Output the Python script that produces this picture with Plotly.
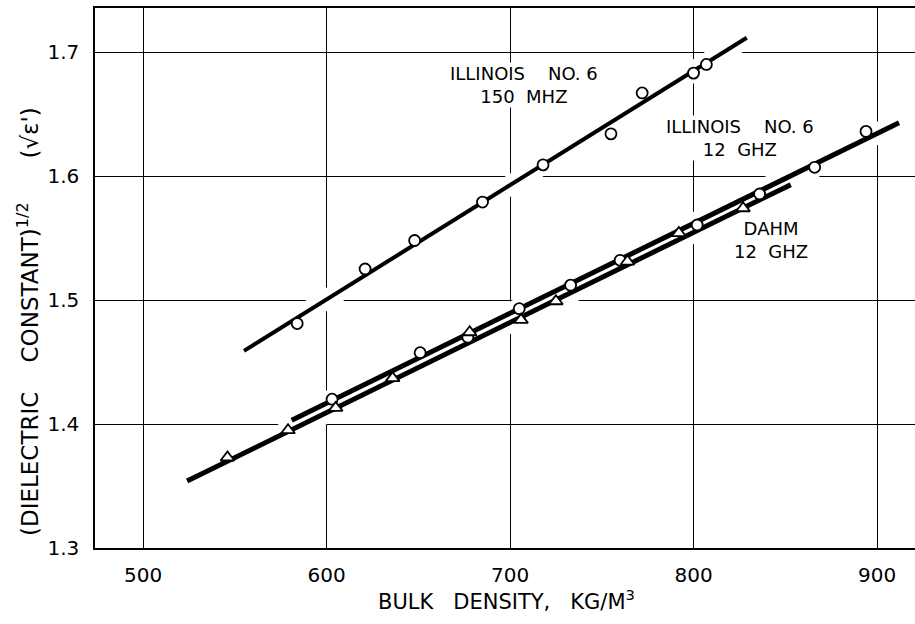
import plotly.graph_objects as go

# ---- data ----
ill150_x = [584, 621, 648, 685, 718, 755, 772, 800, 807]
ill150_y = [1.481, 1.525, 1.548, 1.579, 1.609, 1.634, 1.667, 1.683, 1.690]

ill12_x = [603, 651, 677, 705, 733, 760, 802, 836, 866, 894]
ill12_y = [1.420, 1.4575, 1.470, 1.493, 1.512, 1.532, 1.5605, 1.5855, 1.607, 1.636]

dahm_x = [546, 579, 605, 636, 678, 706, 725, 764, 792, 827]
dahm_y = [1.373, 1.395, 1.413, 1.437, 1.474, 1.484, 1.499, 1.531, 1.554, 1.574]

# fitted lines (end points)
fit150_x = [555, 829]
fit150_y = [1.459, 1.7115]
fit12_x = [581, 912]
fit12_y = [1.403, 1.643]
fitdahm_x = [524, 853]
fitdahm_y = [1.354, 1.593]

x_ticks = [500, 600, 700, 800, 900]
y_ticks = [1.3, 1.4, 1.5, 1.6, 1.7]

FONT = "DejaVu Sans"
HALO = "white"
NB = "\u00a0"

fig = go.Figure()

lines = [(fit150_x, fit150_y, 4), (fit12_x, fit12_y, 5), (fitdahm_x, fitdahm_y, 5)]
pts = [(ill150_x, ill150_y, "circle", 11),
       (ill12_x, ill12_y, "circle", 11),
       (dahm_x, dahm_y, "triangle-up", 12)]

# white halos that break the grid around the drawn lines
for lx, ly, w in lines:
    fig.add_trace(go.Scatter(x=lx, y=ly, mode="lines",
                             line=dict(color=HALO, width=w + 16),
                             hoverinfo="skip", showlegend=False))
for px, py, sym, s in pts:
    fig.add_trace(go.Scatter(x=px, y=py, mode="markers",
                             marker=dict(symbol="circle", size=s + 10, color=HALO,
                                         line=dict(width=0)),
                             hoverinfo="skip", showlegend=False))
# fit lines
for lx, ly, w in lines:
    fig.add_trace(go.Scatter(x=lx, y=ly, mode="lines",
                             line=dict(color="black", width=w),
                             showlegend=False))
# markers
for px, py, sym, s in pts:
    fig.add_trace(go.Scatter(x=px, y=py, mode="markers",
                             marker=dict(symbol=sym, size=s, color="white",
                                         line=dict(color="black", width=1.8)),
                             showlegend=False))

labels = [
    ("ILLINOIS" + NB * 4 + "NO. 6<br>150" + NB * 2 + "MHZ", 707.5, 1.6738),
    ("ILLINOIS" + NB * 4 + "NO. 6<br>12" + NB * 2 + "GHZ", 825.5, 1.631),
    ("DAHM<br>12" + NB * 2 + "GHZ", 842, 1.5484),
]
for t, x, y in labels:
    fig.add_annotation(x=x, y=y, text=t, showarrow=False, xanchor="center",
                       yanchor="middle", align="center", bgcolor="white", borderpad=0,
                       font=dict(family=FONT, size=18, color="black"))

fig.add_annotation(xref="paper", yref="paper", x=(28 - 95) / 820, y=(548 - 322) / 540,
                   text="(DIELECTRIC" + NB * 4 + "CONSTANT)<sup>1/2</sup>" + NB * 6 + "(\u221a\u03b5')",
                   textangle=-90, showarrow=False, xanchor="center", yanchor="middle",
                   font=dict(family=FONT, size=23, color="black"))
fig.add_annotation(xref="paper", yref="paper", x=(506 - 95) / 820, y=-(600 - 548) / 540,
                   text="BULK" + NB * 3 + "DENSITY," + NB * 3 + "KG/M<sup>3</sup>",
                   showarrow=False, xanchor="center", yanchor="middle",
                   font=dict(family=FONT, size=21, color="black"))

fig.update_xaxes(range=[473.8, 920.7], tickvals=x_ticks, ticktext=[str(v) for v in x_ticks],
                 showgrid=True, gridcolor="black", gridwidth=1.3, zeroline=False,
                 showline=True, linecolor="black", linewidth=1.5, mirror=True,
                 ticks="", ticklabelstandoff=8,
                 tickfont=dict(family=FONT, size=20, color="black"))
fig.update_yaxes(range=[1.3, 1.7355], tickvals=y_ticks, ticktext=[f"{v:.1f}" for v in y_ticks],
                 showgrid=True, gridcolor="black", gridwidth=1.3, zeroline=False,
                 showline=True, linecolor="black", linewidth=1.5,
                 ticks="", ticklabelstandoff=10,
                 tickfont=dict(family=FONT, size=20, color="black"))

fig.update_layout(width=915, height=624, margin=dict(l=95, r=0, t=8, b=76),
                  plot_bgcolor="white", paper_bgcolor="white", showlegend=False)

fig.write_html("out.html")
